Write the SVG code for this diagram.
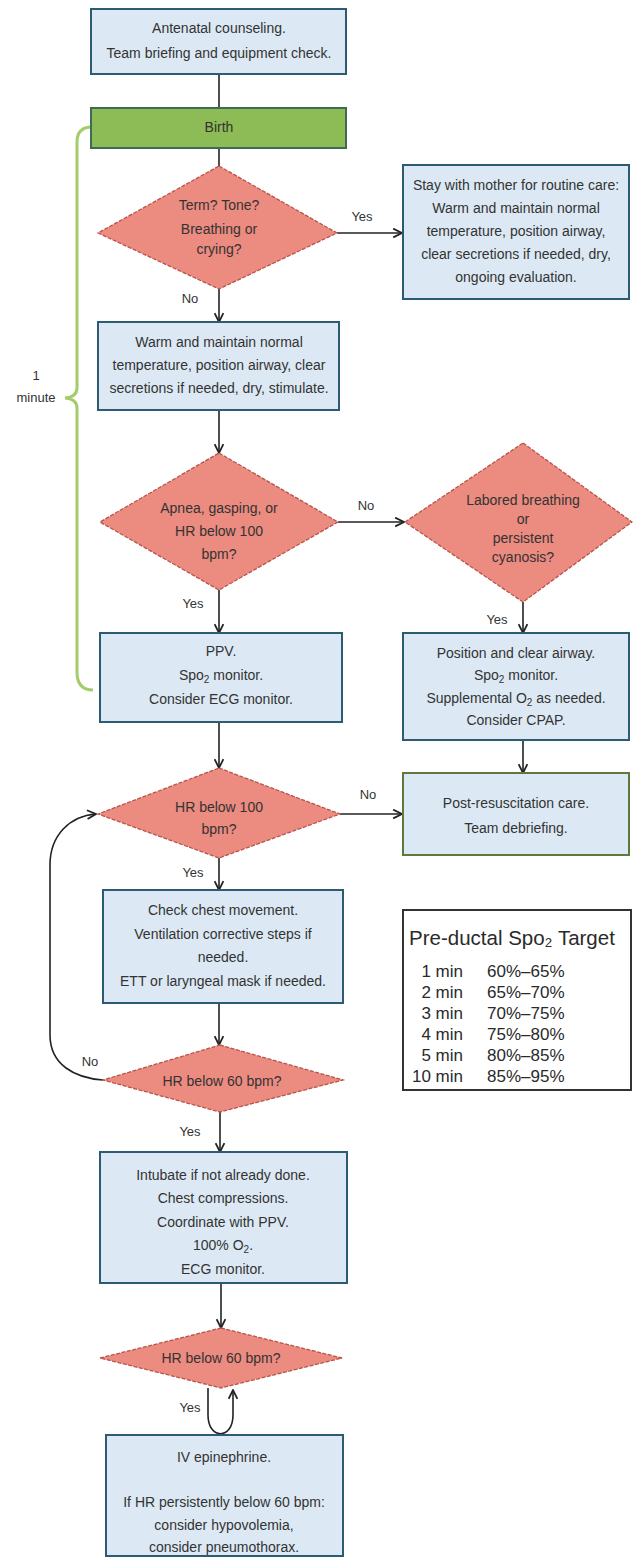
<svg xmlns="http://www.w3.org/2000/svg" width="633" height="1562" viewBox="0 0 633 1562">
<defs>
<marker id="arr" viewBox="0 0 10 10" refX="9" refY="5" markerWidth="11" markerHeight="11" markerUnits="userSpaceOnUse" orient="auto">
<path d="M1,1 L9,5 L1,9" fill="none" stroke="#222" stroke-width="1.6"/>
</marker>
</defs>
<style>
.box{fill:#dce9f4;stroke:#2c5c73;stroke-width:2}
.dia{fill:#ec8b80;stroke:#b9544b;stroke-width:1.3;stroke-dasharray:4 1.5}
.t{font-family:"Liberation Sans",Arial,sans-serif;font-size:14px;fill:#333;text-anchor:middle}
.lbl{font-family:"Liberation Sans",Arial,sans-serif;font-size:13px;fill:#333;text-anchor:middle}
.tb{font-family:"Liberation Sans",Arial,sans-serif;font-size:17px;fill:#2a2a2a}
.c{fill:none;stroke:#222;stroke-width:1.6}
.ca{fill:none;stroke:#222;stroke-width:1.6;marker-end:url(#arr)}
.sub{font-size:10px}
</style>
<rect width="633" height="1562" fill="#fff"/>

<g id="connectors">
<path class="c" d="M219 74 V108"/>
<path class="c" d="M219 148 V166"/>
<path class="ca" d="M337 233 H402"/>
<path class="ca" d="M219 289 V322"/>
<path class="ca" d="M219 410 V453"/>
<path class="ca" d="M338 522 H404"/>
<path class="ca" d="M219 590 V633"/>
<path class="ca" d="M523 602 V633"/>
<path class="ca" d="M523 740 V773"/>
<path class="ca" d="M219 722 V768"/>
<path class="ca" d="M340 814 H402"/>
<path class="ca" d="M219 858 V890"/>
<path class="ca" d="M219 1003 V1045"/>
<path class="ca" d="M103 1080 C75 1078 50 1065 50 1035 L50 865 C50 835 70 816 96 814"/>
<path class="ca" d="M220 1112 V1152"/>
<path class="ca" d="M221 1283 V1328"/>
<path class="ca" d="M208 1388 L208 1415 C208 1440 233 1440 233 1415 L233 1390"/>
<text class="lbl" x="362" y="221">Yes</text>
<text class="lbl" x="190" y="303">No</text>
<text class="lbl" x="366" y="510">No</text>
<text class="lbl" x="193" y="608">Yes</text>
<text class="lbl" x="497" y="624">Yes</text>
<text class="lbl" x="368" y="799">No</text>
<text class="lbl" x="193" y="877">Yes</text>
<text class="lbl" x="90" y="1066">No</text>
<text class="lbl" x="190" y="1136">Yes</text>
<text class="lbl" x="190" y="1412">Yes</text>
</g>

<g id="bracket">
<path d="M92 127 Q77 127 77 142 L77 388 Q77 397 65 398 Q77 399 77 408 L77 672 Q77 690 93 690" fill="none" stroke="#a3cc6a" stroke-width="3"/>
<text class="lbl" x="36" y="380">1</text>
<text class="lbl" x="36" y="402">minute</text>
</g>

<g id="n-antenatal">
<rect class="box" x="91" y="9" width="255" height="65"/>
<text class="t" x="219" y="33">Antenatal counseling.</text>
<text class="t" x="219" y="58">Team briefing and equipment check.</text>
</g>

<g id="n-birth">
<rect x="91" y="108" width="255" height="40" fill="#8dbb55" stroke="#3d6b56" stroke-width="2"/>
<text class="t" x="219" y="132">Birth</text>
</g>

<g id="d-term">
<polygon class="dia" points="219,166 337,233 219,289 98,233"/>
<text class="t" x="219" y="210">Term? Tone?</text>
<text class="t" x="219" y="234">Breathing or</text>
<text class="t" x="219" y="254">crying?</text>
</g>

<g id="n-routine">
<rect class="box" x="403" y="165" width="226" height="134"/>
<text class="t" x="516" y="190">Stay with mother for routine care:</text>
<text class="t" x="516" y="213">Warm and maintain normal</text>
<text class="t" x="516" y="236">temperature, position airway,</text>
<text class="t" x="516" y="259">clear secretions if needed, dry,</text>
<text class="t" x="516" y="282">ongoing evaluation.</text>
</g>

<g id="n-warm">
<rect class="box" x="98" y="322" width="241" height="88"/>
<text class="t" x="219" y="347">Warm and maintain normal</text>
<text class="t" x="219" y="370">temperature, position airway, clear</text>
<text class="t" x="219" y="393">secretions if needed, dry, stimulate.</text>
</g>

<g id="d-apnea">
<polygon class="dia" points="219,453 338,522 219,590 100,522"/>
<text class="t" x="219" y="513">Apnea, gasping, or</text>
<text class="t" x="219" y="536">HR below 100</text>
<text class="t" x="219" y="559">bpm?</text>
</g>

<g id="d-labored">
<polygon class="dia" points="523,443 632,522 523,602 405,522"/>
<text class="t" x="523" y="505">Labored breathing</text>
<text class="t" x="523" y="524">or</text>
<text class="t" x="523" y="543">persistent</text>
<text class="t" x="523" y="562">cyanosis?</text>
</g>

<g id="n-ppv">
<rect class="box" x="100" y="633" width="242" height="89"/>
<text class="t" x="221" y="656">PPV.</text>
<text class="t" x="221" y="680">Spo<tspan class="sub" dy="3">2</tspan><tspan dy="-3"> monitor.</tspan></text>
<text class="t" x="221" y="704">Consider ECG monitor.</text>
</g>

<g id="n-position">
<rect class="box" x="403" y="633" width="226" height="107"/>
<text class="t" x="516" y="658">Position and clear airway.</text>
<text class="t" x="516" y="680">Spo<tspan class="sub" dy="3">2</tspan><tspan dy="-3"> monitor.</tspan></text>
<text class="t" x="516" y="703">Supplemental O<tspan class="sub" dy="3">2</tspan><tspan dy="-3"> as needed.</tspan></text>
<text class="t" x="516" y="725">Consider CPAP.</text>
</g>

<g id="d-hr100">
<polygon class="dia" points="219,768 340,814 219,858 98,814"/>
<text class="t" x="219" y="812">HR below 100</text>
<text class="t" x="219" y="834">bpm?</text>
</g>

<g id="n-postresus">
<rect x="403" y="773" width="226" height="82" fill="#dce9f4" stroke="#5c7a3c" stroke-width="2"/>
<text class="t" x="516" y="808">Post-resuscitation care.</text>
<text class="t" x="516" y="833">Team debriefing.</text>
</g>

<g id="n-check">
<rect class="box" x="103" y="890" width="240" height="113"/>
<text class="t" x="223" y="915">Check chest movement.</text>
<text class="t" x="223" y="939">Ventilation corrective steps if</text>
<text class="t" x="223" y="962">needed.</text>
<text class="t" x="223" y="986">ETT or laryngeal mask if needed.</text>
</g>

<g id="d-hr60a">
<polygon class="dia" points="220,1045 343,1080 220,1112 103,1080"/>
<text class="t" x="222" y="1086">HR below 60 bpm?</text>
</g>

<g id="n-intubate">
<rect class="box" x="100" y="1152" width="247" height="131"/>
<text class="t" x="223" y="1180">Intubate if not already done.</text>
<text class="t" x="223" y="1203">Chest compressions.</text>
<text class="t" x="223" y="1227">Coordinate with PPV.</text>
<text class="t" x="223" y="1250">100% O<tspan class="sub" dy="3">2</tspan><tspan dy="-3">.</tspan></text>
<text class="t" x="223" y="1274">ECG monitor.</text>
</g>

<g id="d-hr60b">
<polygon class="dia" points="221,1328 342,1358 221,1388 100,1358"/>
<text class="t" x="221" y="1363">HR below 60 bpm?</text>
</g>

<g id="n-epi">
<rect class="box" x="106" y="1435" width="237" height="121"/>
<text class="t" x="224" y="1462">IV epinephrine.</text>
<text class="t" x="224" y="1507">If HR persistently below 60 bpm:</text>
<text class="t" x="224" y="1530">consider hypovolemia,</text>
<text class="t" x="224" y="1552">consider pneumothorax.</text>
</g>

<g id="n-table">
<rect x="403" y="910" width="228" height="180" fill="#fff" stroke="#333" stroke-width="2"/>
<text class="tb" x="409" y="945" style="font-size:20.5px">Pre-ductal Spo₂ Target</text>
<text class="tb" x="463" y="977" text-anchor="end">1 min</text>
<text class="tb" x="463" y="998" text-anchor="end">2 min</text>
<text class="tb" x="463" y="1019" text-anchor="end">3 min</text>
<text class="tb" x="463" y="1040" text-anchor="end">4 min</text>
<text class="tb" x="463" y="1061" text-anchor="end">5 min</text>
<text class="tb" x="463" y="1082" text-anchor="end">10 min</text>
<text class="tb" x="487" y="977">60%–65%</text>
<text class="tb" x="487" y="998">65%–70%</text>
<text class="tb" x="487" y="1019">70%–75%</text>
<text class="tb" x="487" y="1040">75%–80%</text>
<text class="tb" x="487" y="1061">80%–85%</text>
<text class="tb" x="487" y="1082">85%–95%</text>
</g>
</svg>
